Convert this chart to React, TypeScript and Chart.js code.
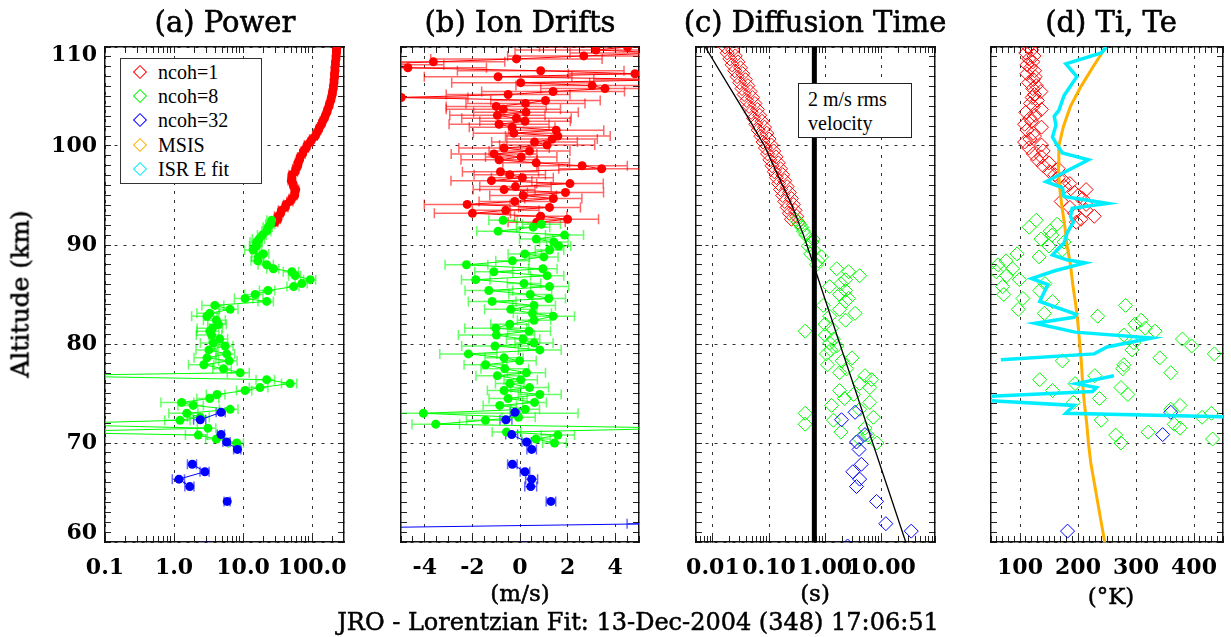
import React, { useEffect, useRef } from 'react';
import { Chart, registerables } from 'chart.js';
Chart.register(...registerables);

// ---------------- DATA ----------------
// altitude grids (km)
const redAlt = [92.3, 92.6, 92.9, 93.2, 93.5, 93.8, 94.1, 94.4, 94.7, 95.0, 95.3, 95.6, 95.9, 96.2, 96.5, 96.8, 97.1, 97.4, 97.7, 98.0, 98.3, 98.6, 98.9, 99.2, 99.5, 99.8, 100.1, 100.4, 100.7, 101.0, 101.3, 101.6, 101.9, 102.2, 102.5, 102.8, 103.1, 103.4, 103.7, 104.0, 104.3, 104.6, 104.9, 105.2, 105.5, 105.8, 106.1, 106.4, 106.7, 107.0, 107.3, 107.6, 107.9, 108.2, 108.5, 108.8, 109.1, 109.4, 109.7, 110.0];
const greenAlt = [70.0, 70.4, 70.8, 71.1, 71.5, 71.9, 72.3, 72.6, 73.0, 73.4, 73.8, 74.1, 74.5, 74.9, 75.3, 75.6, 76.0, 76.4, 76.8, 77.1, 77.5, 77.9, 78.3, 78.6, 79.0, 79.4, 79.8, 80.1, 80.5, 80.9, 81.3, 81.6, 82.0, 82.4, 82.8, 83.1, 83.5, 83.9, 84.3, 84.6, 85.0, 85.4, 85.8, 86.1, 86.5, 86.9, 87.3, 87.6, 88.0, 88.4, 88.8, 89.1, 89.5, 89.9, 90.3, 90.6, 91.0, 91.4, 91.8, 92.1, 92.5];
const blueAlt = [73.1, 72.35, 71.6, 70.85, 70.1, 69.35, 68.6, 67.85, 67.1, 66.35, 65.6, 64.85, 64.1, 63.35, 62.6, 61.85, 61.1, 60.35, 59.6];

// (a) Power
const redPower = [29, 32, 32, 35, 36, 41, 42, 48, 51, 56, 56, 58, 54, 53, 50, 51, 51, 57, 58, 62, 62, 66, 67, 73, 75, 82, 85, 94, 100, 111, 116, 124, 128, 137, 142, 151, 156, 164, 168, 176, 179, 187, 190, 196, 198, 203, 204, 208, 208, 212, 211, 215, 214, 218, 218, 222, 222, 226, 226, 229];
const redPowerRelErr = [0.10, 0.09, 0.11, 0.08, 0.10, 0.09, 0.08, 0.10, 0.09, 0.08, 0.09, 0.10, 0.08, 0.09, 0.10, 0.08, 0.09, 0.08, 0.10, 0.09, 0.08, 0.09, 0.08, 0.09, 0.07, 0.08, 0.09, 0.07, 0.08, 0.07, 0.08, 0.07, 0.06, 0.07, 0.08, 0.06, 0.07, 0.06, 0.07, 0.06, 0.07, 0.06, 0.05, 0.06, 0.07, 0.06, 0.05, 0.06, 0.05, 0.06, 0.05, 0.06, 0.05, 0.06, 0.05, 0.05, 0.06, 0.05, 0.05, 0.05];
const greenPower = [8.1, 4.1, 2.25, 0.01, 3.1, 0.01, 1.22, 2.4, 1.53, 6.5, 1.9, 1.29, 3.3, 4.2, 10.7, 17.6, 48, 22, 0.01, 9.1, 5.2, 2.7, 6.3, 3.0, 5.8, 3.2, 5.5, 3.7, 4.6, 3.5, 3.3, 3.6, 4.4, 4.1, 3.0, 3.3, 6.5, 3.9, 22, 10.7, 15, 23, 54, 71, 94, 57, 51, 27.5, 22, 16.3, 16.7, 19.7, 14, 15.5, 15.8, 17, 19, 22, 23, 25, 26];
const greenPowerRelErr = [0.25, 0.3, 0.35, 0.5, 0.3, 0.5, 0.4, 0.35, 0.45, 0.3, 0.4, 0.5, 0.35, 0.3, 0.25, 0.3, 0.25, 0.3, 0.6, 0.35, 0.3, 0.4, 0.3, 0.35, 0.3, 0.35, 0.3, 0.35, 0.3, 0.4, 0.35, 0.4, 0.3, 0.35, 0.4, 0.35, 0.3, 0.35, 0.25, 0.3, 0.3, 0.25, 0.2, 0.2, 0.2, 0.2, 0.25, 0.2, 0.25, 0.2, 0.2, 0.2, 0.25, 0.2, 0.2, 0.2, 0.15, 0.15, 0.15, 0.15, 0.15];
const bluePower = [4.8, 2.4, null, 4.8, 5.8, 8.3, null, 1.84, 2.8, 1.18, 1.69, null, 5.9, null, null, null, null, null, 2.8];
const bluePowerRelErr = [0.15, 0.2, null, 0.12, 0.12, 0.12, null, 0.15, 0.15, 0.2, 0.15, null, 0.1, null, null, null, null, null, 0.12];

// (b) Ion drifts (m/s)
const redVel = [0.7, 2.0, 0.87, -2.0, -0.6, 1.24, -2.22, -0.22, 1.4, 0.13, 1.91, -0.67, -0.19, 2.1, -1.2, 0.1, -0.43, -0.82, 3.43, 2.61, 0.68, -0.88, 0.05, -1.09, 0.4, -0.67, 1.14, 0.61, 1.35, 1.59, -0.26, 1.52, -0.33, -0.88, 0.21, -0.15, -0.95, 0.25, -0.7, -1.0, 0.23, 1.07, -4.99, -0.5, 1.39, 3.57, 3.03, 0.03, 6.5, -0.92, 4.83, 0.87, -4.71, -7.0, -3.64, -0.15, 2.68, 6.0, 3.19, 4.52];
const redVelErr = [1.2, 1.3, 1.1, 1.6, 1.4, 1.3, 1.8, 1.5, 1.2, 1.4, 1.6, 1.3, 1.5, 1.4, 1.7, 1.3, 1.5, 1.6, 1.8, 1.9, 1.4, 1.6, 1.5, 1.8, 1.7, 1.9, 2.0, 1.8, 1.9, 2.2, 1.7, 2.0, 1.8, 2.1, 1.9, 2.3, 2.0, 2.2, 2.4, 2.1, 2.5, 2.3, 2.8, 2.6, 3.0, 2.7, 3.2, 2.9, 3.4, 3.1, 2.8, 3.5, 3.3, 3.8, 3.0, 3.6, 3.2, 3.9, 3.4, 3.7];
const greenVel = [1.45, 0.67, 1.59, -0.57, 7.0, -3.54, -1.45, -0.06, -4.06, 0.22, -0.85, 0.61, -0.5, 0.83, -0.67, 0.4, -0.43, 0.03, -0.95, 0.27, -0.64, -1.45, -0.02, -0.67, -2.17, 0.83, -1.05, 0.59, 0.13, -0.99, 0.38, -1.02, -0.43, 0.59, 1.39, 0.52, -0.39, 0.59, -1.17, 1.21, 0.43, -1.31, 1.24, 0.17, -1.86, 1.14, -1.1, 0.96, -2.25, -0.32, 1.0, 0.2, 1.24, 1.63, 1.42, 0.68, 1.87, -0.92, 0.55, 0.9, -0.71];
const greenVelErr = [0.5, 0.6, 0.7, 0.6, 1.5, 1.0, 0.8, 0.7, 6.5, 0.6, 0.7, 0.5, 0.8, 0.9, 0.7, 0.8, 0.6, 0.7, 0.9, 0.8, 1.0, 0.9, 0.7, 0.8, 1.2, 0.9, 1.4, 0.8, 0.7, 1.6, 0.9, 1.3, 0.8, 0.7, 0.9, 0.8, 1.1, 0.9, 1.0, 0.7, 0.9, 1.0, 0.8, 0.7, 0.6, 0.7, 0.8, 0.6, 0.9, 0.7, 0.6, 0.7, 0.6, 0.5, 0.6, 0.7, 0.8, 0.9, 0.7, 0.8, 0.6];
const blueVel = [-0.21, -0.59, null, -0.35, 0.28, 0.49, null, -0.32, 0.21, 0.49, 0.45, null, 1.3, null, null, 5.8, -17, null, 0.1];
const blueVelErr = [0.2, 0.25, null, 0.25, 0.2, 0.2, null, 0.2, 0.2, 0.25, 0.25, null, 0.2, null, null, 1.3, 2.0, null, 0.2];

// (c) Diffusion time (s)
const redDiff = [0.33, 0.25, 0.31, 0.23, 0.29, 0.21, 0.27, 0.19, 0.25, 0.175, 0.23, 0.16, 0.21, 0.148, 0.19, 0.135, 0.175, 0.124, 0.16, 0.113, 0.146, 0.103, 0.133, 0.094, 0.121, 0.086, 0.11, 0.078, 0.1, 0.071, 0.091, 0.064, 0.083, 0.058, 0.075, 0.053, 0.068, 0.048, 0.062, 0.044, 0.056, 0.04, 0.051, 0.036, 0.046, 0.033, 0.042, 0.03, 0.038, 0.027, 0.034, 0.0245, 0.031, 0.022, 0.028, 0.02, 0.025, 0.018, 0.0225, 0.0165];
const greenDiff = [8.3, 4.1, 5.7, 1.9, 5.1, 0.44, 1.4, 7.2, 0.44, 4.1, 1.3, 6.2, 2.2, 3.2, 1.8, 6.2, 4.1, 6.7, 5.1, 1.8, 2.4, 1.1, 2.0, 3.0, 1.05, 1.25, 1.6, 1.2, 1.4, 1.0, 0.44, 1.3, 0.99, 2.3, 1.2, 3.4, 1.8, 0.92, 2.3, 2.6, 1.8, 2.3, 1.2, 1.9, 2.3, 4.1, 2.6, 1.6, 0.7, 0.75, 0.86, 0.55, 0.62, 0.5, 0.58, 0.61, 0.45, 0.41, 0.38, 0.35, 0.31];
const blueDiff = [3.4, 1.95, null, 5.1, 3.6, 4.0, null, 4.4, 3.1, 4.1, 3.6, null, 8.2, null, null, 12, 34, null, 2.5];
const diffCurveAlt = [60, 65, 70, 75, 80, 85, 88, 91, 94, 97, 100, 103, 106, 110];
const diffCurveTime = [27.1, 13.8, 7.0, 3.6, 1.82, 0.93, 0.62, 0.41, 0.256, 0.145, 0.083, 0.041, 0.0195, 0.0073];
const rmsTime = 0.64;

// (d) Ti, Te (K)
const redTemp = [197, 205, 228, 194, 214, 186, 214, 171, 208, 200, 194, 214, 177, 186, 175, 166, 160, 151, 166, 140, 150, 130, 137, 123, 140, 115, 137, 108, 117, 125, 123, 112, 137, 108, 120, 117, 126, 110, 137, 123, 118, 130, 121, 125, 136, 122, 128, 115, 123, 126, 112, 125, 118, 112, 122, 115, 124, 110, 120, 114];
const greenTemp = [274, 432, 265, 321, 376, 366, 240, 414, 430, 360, 376, 192, 237, 286, 156, 274, 195, 134, 229, 360, 277, 279, 173, 341, 435, 293, 396, 296, 380, 279, 333, 316, 298, 309, 234, 142, 97, 282, 156, 105, 72, 134, 70, 143, 99, 77, 59, 87, 62, 76, 133, 95, 173, 150, 176, 136, 155, 152, 116, 164, 128];
const blueTemp = [360, null, null, 346, null, null, null, null, null, null, null, null, null, null, null, null, 182, null, null];
const msisAlt = [60, 62, 64, 66, 68, 70, 72, 74, 76, 78, 80, 82, 84, 86, 88, 90, 92, 94, 96, 98, 100, 102, 104, 106, 108, 110];
const msisTemp = [246, 240, 234, 228, 222, 218, 215, 211, 208, 206, 203, 200, 196, 191, 187, 181, 177, 172, 168, 166, 167, 175, 187, 205, 226, 248];
const isrAlt = [72.65, 73.0, 73.8, 74.3, 74.7, 75.2, 75.6, 76.0, 76.8, 77.6, 78.4, 79.0, 79.7, 80.6, 81.2, 82.1, 82.7, 83.0, 84.3, 86.0, 86.6, 87.4, 88.2, 88.5, 89.0, 90.2, 91.2, 92.3, 92.9, 93.7, 94.2, 94.9, 95.8, 96.4, 98.6, 99.3, 100.3, 100.9, 102.1, 103.0, 103.6, 105.1, 107.0, 108.3, 109.4, 110.0];
const isrTemp = [460, 179, 193, 40, 40, 225, 232, 197, 262, null, 67, 228, 250, 327, 195, 126, 193, 197, 134, 148, 120, 160, 212, 181, 156, 176, 181, 192, 187, 190, 251, 176, 173, 145, 218, 173, 162, 156, 162, 159, 167, 176, 198, 179, 240, 249];

// axis tick labels
const altMajor = [60, 70, 80, 90, 100, 110];
const altLabels = ['60', '70', '80', '90', '100', '110'];
const powerMajor = [0.1, 1, 10, 100];
const powerLabels = ['0.1', '1.0', '10.0', '100.0'];
const velMajor = [-4, -2, 0, 2, 4];
const velLabels = ['-4', '-2', '0', '2', '4'];
const diffMajor = [0.01, 0.1, 1, 10];
const diffLabels = ['0.01', '0.10', '1.00', '10.00'];
const tempMajor = [100, 200, 300, 400];
const tempLabels = ['100', '200', '300', '400'];

const panelTitles = ['(a) Power', '(b) Ion Drifts', '(c) Diffusion Time', '(d) Ti, Te'];
const legendLabels = ['ncoh=1', 'ncoh=8', 'ncoh=32', 'MSIS', 'ISR E fit'];
const footerText = 'JRO - Lorentzian Fit: 13-Dec-2004 (348) 17:06:51';

// ---------------- STYLE ----------------
const RED = '#ff0000';
const GREEN = '#00ff00';
const BLUE = '#0000ff';
const ORANGE = '#ffb000';
const CYAN = '#00eeff';
const legendColors = [RED, GREEN, BLUE, ORANGE, CYAN];
const SERIF = '"DejaVu Serif", serif';
const TIMES = '"Liberation Serif", "Times New Roman", serif';
const GRID = '#333333';
const FRAME = '#111111';
const TICK = '#222222';
const H = 637;
const PLOT_TOP = 47;
const PLOT_BOTTOM = 542;
const X_AXIS_H = 40;

const close = (a: number, b: number) => Math.abs(a - b) <= 1e-6 * Math.max(Math.abs(b), 1e-9);

function linTicks(min: number, max: number, step: number) {
  const out: number[] = [];
  const n = Math.round((max - min) / step);
  for (let i = 0; i <= n; i++) out.push(Math.round((min + i * step) * 1000) / 1000);
  return out;
}
function logTicks(min: number, max: number) {
  const out: number[] = [];
  for (let e = -4; e <= 4; e++) {
    for (let m = 1; m <= 9; m++) {
      const v = Number((m * Math.pow(10, e)).toPrecision(6));
      if (v >= min * 0.9999 && v <= max * 1.0001) out.push(v);
    }
  }
  return out;
}

const altTicks = linTicks(60, 110, 1);

function pts(alt: number[], vals: (number | null)[]) {
  return alt.map((a, i) => ({ x: vals[i] == null ? null : vals[i], y: a }));
}

function lineSeries(alt: number[], vals: any[], color: string, lo: any[], hi: any[]) {
  return {
    data: pts(alt, vals),
    showLine: true,
    borderColor: color,
    borderWidth: 1,
    pointRadius: 4.5,
    pointBackgroundColor: color,
    pointBorderColor: color,
    pointBorderWidth: 0,
    xLo: lo,
    xHi: hi,
    errColor: color,
  };
}
function relBars(vals: any[], rel: any[]) {
  return {
    lo: vals.map((v, i) => (v == null || rel[i] == null ? null : v * (1 - rel[i]))),
    hi: vals.map((v, i) => (v == null || rel[i] == null ? null : v * (1 + rel[i]))),
  };
}
function absBars(vals: any[], err: any[]) {
  return {
    lo: vals.map((v, i) => (v == null || err[i] == null ? null : v - err[i])),
    hi: vals.map((v, i) => (v == null || err[i] == null ? null : v + err[i])),
  };
}
function diamonds(alt: number[], vals: any[], color: string) {
  return {
    data: pts(alt, vals),
    showLine: false,
    pointStyle: 'rectRot',
    pointRadius: 7,
    pointBorderColor: color,
    pointBackgroundColor: 'rgba(0,0,0,0)',
    pointBorderWidth: 1,
  };
}
function curve(alt: number[], vals: any[], color: string, width: number) {
  return {
    data: pts(alt, vals),
    showLine: true,
    borderColor: color,
    borderWidth: width,
    pointRadius: 0,
    tension: 0,
  };
}

const errorBarPlugin = {
  id: 'errbars',
  beforeDatasetsDraw(chart: any) {
    const { ctx, chartArea, scales } = chart;
    ctx.save();
    ctx.beginPath();
    ctx.rect(chartArea.left, chartArea.top, chartArea.right - chartArea.left, chartArea.bottom - chartArea.top);
    ctx.clip();
    chart.data.datasets.forEach((ds: any) => {
      if (!ds.xLo) return;
      ctx.strokeStyle = ds.errColor;
      ctx.globalAlpha = 0.6;
      ctx.lineWidth = 1.5;
      ds.data.forEach((p: any, i: number) => {
        if (p.x == null || ds.xLo[i] == null) return;
        const y = scales.y.getPixelForValue(p.y);
        const x1 = scales.x.getPixelForValue(ds.xLo[i]);
        const x2 = scales.x.getPixelForValue(ds.xHi[i]);
        if (!isFinite(x1) || !isFinite(x2)) return;
        ctx.beginPath();
        ctx.moveTo(x1, y);
        ctx.lineTo(x2, y);
        ctx.moveTo(x1, y - 5);
        ctx.lineTo(x1, y + 5);
        ctx.moveTo(x2, y - 5);
        ctx.lineTo(x2, y + 5);
        ctx.stroke();
      });
    });
    ctx.restore();
  },
};

const xTickFont = { family: SERIF, size: 22, weight: 'bold' };
const yTickFont = { family: SERIF, size: 22, weight: 'bold', lineHeight: '17px' };

function xScales(type: string, min: number, max: number, ticks: number[], majors: number[], labels: string[]) {
  const isMajor = (v: number) => majors.some((m) => close(v, m));
  const common = {
    type,
    min,
    max,
    bounds: 'data',
    afterBuildTicks: (s: any) => {
      s.ticks = ticks.map((v) => ({ value: v }));
    },
  };
  return {
    x: {
      ...common,
      position: 'bottom',
      ticks: {
        autoSkip: false,
        maxRotation: 0,
        minRotation: 0,
        padding: 19,
        color: '#000',
        font: xTickFont,
        callback: (v: number) => {
          const k = majors.findIndex((m) => close(v, m));
          return k >= 0 ? labels[k] : '';
        },
      },
      grid: {
        color: (c: any) => (c.tick && isMajor(c.tick.value) ? GRID : 'rgba(0,0,0,0)'),
        lineWidth: 1,
        drawTicks: true,
        tickLength: -6,
        tickColor: TICK,
        tickWidth: 1,
      },
      border: { display: true, color: FRAME, width: 1.5, dash: [3, 6] },
      afterFit: (s: any) => {
        s.height = X_AXIS_H;
        s.paddingLeft = 0;
        s.paddingRight = 0;
      },
    },
    x2: {
      ...common,
      axis: 'x',
      position: 'top',
      ticks: { display: false },
      grid: { drawOnChartArea: false, drawTicks: true, tickLength: -6, tickColor: TICK, tickWidth: 1 },
      border: { display: true, color: FRAME, width: 1.5 },
      afterFit: (s: any) => {
        s.height = 0;
        s.paddingLeft = 0;
        s.paddingRight = 0;
      },
    },
  };
}

function yScales(yW: number, showLabels: boolean) {
  const isMajor = (v: number) => altMajor.some((m) => close(v, m));
  const common = {
    type: 'linear',
    min: 60,
    max: 110,
    bounds: 'data',
    afterBuildTicks: (s: any) => {
      s.ticks = altTicks.map((v) => ({ value: v }));
    },
  };
  return {
    y: {
      ...common,
      position: 'left',
      ticks: {
        display: showLabels,
        autoSkip: false,
        padding: 14,
        color: '#000',
        font: yTickFont,
        callback: (v: number) => {
          const k = altMajor.findIndex((m) => close(v, m));
          if (k < 0) return '';
          if (k === 0) return [altLabels[k], ''];
          if (k === altMajor.length - 1) return ['', altLabels[k]];
          return altLabels[k];
        },
      },
      grid: {
        color: (c: any) => (c.tick && isMajor(c.tick.value) ? GRID : 'rgba(0,0,0,0)'),
        lineWidth: 1,
        drawTicks: true,
        tickLength: -6,
        tickColor: TICK,
        tickWidth: 1,
      },
      border: { display: true, color: FRAME, width: 1.5, dash: [3, 6] },
      afterFit: (s: any) => {
        s.width = yW;
        s.paddingTop = 0;
        s.paddingBottom = 0;
      },
    },
    y2: {
      ...common,
      axis: 'y',
      position: 'right',
      ticks: { display: false },
      grid: { drawOnChartArea: false, drawTicks: true, tickLength: -6, tickColor: TICK, tickWidth: 1 },
      border: { display: true, color: FRAME, width: 1.5 },
      afterFit: (s: any) => {
        s.width = 0;
        s.paddingTop = 0;
        s.paddingBottom = 0;
      },
    },
  };
}

function makeConfig(o: any) {
  return {
    type: 'scatter',
    data: { datasets: o.datasets },
    options: {
      animation: false,
      responsive: false,
      events: [],
      layout: { padding: { left: o.padL, right: o.padR, top: PLOT_TOP, bottom: H - PLOT_BOTTOM - X_AXIS_H } },
      plugins: { legend: { display: false }, tooltip: { enabled: false } },
      scales: { ...o.x, ...yScales(o.yW, o.showY) },
    },
    plugins: [errorBarPlugin],
  };
}

// ---------------- PANELS ----------------
function powerConfig() {
  const r = relBars(redPower, redPowerRelErr);
  const g = relBars(greenPower, greenPowerRelErr);
  const b = relBars(bluePower, bluePowerRelErr);
  return makeConfig({
    padL: 0,
    yW: 105,
    padR: 16,
    showY: true,
    x: xScales('logarithmic', 0.1, 290, logTicks(0.1, 290), powerMajor, powerLabels),
    datasets: [
      lineSeries(blueAlt, bluePower, BLUE, b.lo, b.hi),
      lineSeries(greenAlt, greenPower, GREEN, g.lo, g.hi),
      lineSeries(redAlt, redPower, RED, r.lo, r.hi),
    ],
  });
}
function driftConfig() {
  const r = absBars(redVel, redVelErr);
  const g = absBars(greenVel, greenVelErr);
  const b = absBars(blueVel, blueVelErr);
  return makeConfig({
    padL: 0,
    yW: 21,
    padR: 21,
    showY: false,
    x: xScales('linear', -5, 5, linTicks(-5, 5, 0.5), velMajor, velLabels),
    datasets: [
      lineSeries(blueAlt, blueVel, BLUE, b.lo, b.hi),
      lineSeries(greenAlt, greenVel, GREEN, g.lo, g.hi),
      lineSeries(redAlt, redVel, RED, r.lo, r.hi),
    ],
  });
}
function diffConfig() {
  return makeConfig({
    padL: 0,
    yW: 20,
    padR: 21,
    showY: false,
    x: xScales('logarithmic', 0.005, 90, logTicks(0.005, 90), diffMajor, diffLabels),
    datasets: [
      curve([60, 110], [rmsTime, rmsTime], '#000', 5),
      curve(diffCurveAlt, diffCurveTime, '#000', 1.3),
      diamonds(blueAlt, blueDiff, BLUE),
      diamonds(greenAlt, greenDiff, GREEN),
      diamonds(redAlt, redDiff, RED),
    ],
  });
}
function tempConfig() {
  return makeConfig({
    padL: 0,
    yW: 20,
    padR: 1,
    showY: false,
    x: xScales('linear', 50, 450, linTicks(50, 450, 10), tempMajor, tempLabels),
    datasets: [
      curve(isrAlt, isrTemp, CYAN, 3.5),
      curve(msisAlt, msisTemp, ORANGE, 3),
      diamonds(blueAlt, blueTemp, BLUE),
      diamonds(greenAlt, greenTemp, GREEN),
      diamonds(redAlt, redTemp, RED),
    ],
  });
}

function Panel({ left, width, build }: { left: number; width: number; build: () => any }) {
  const ref = useRef<HTMLCanvasElement | null>(null);
  useEffect(() => {
    const chart = new Chart(ref.current as any, build() as any);
    return () => chart.destroy();
  }, []);
  return (
    <canvas
      ref={ref}
      width={width}
      height={H}
      style={{ position: 'absolute', left, top: 0, width, height: H }}
    />
  );
}

function Label(props: any) {
  const { x, y, text, size, weight = 'normal', family = SERIF, rotate = 0, stroke = 0.4 } = props;
  return (
    <div
      style={{
        position: 'absolute',
        left: x,
        top: y,
        transform: `translate(-50%, -50%) rotate(${rotate}deg)`,
        fontFamily: family,
        fontSize: size,
        fontWeight: weight,
        lineHeight: 1,
        whiteSpace: 'nowrap',
        color: '#000',
        WebkitTextStroke: `${stroke}px #000`,
      }}
    >
      {text}
    </div>
  );
}

export default function App() {
  const titleX = [225, 520, 815, 1111];
  return (
    <div style={{ position: 'absolute', left: 0, top: 0, width: 1231, height: H, background: '#fff', overflow: 'hidden' }}>
      <Panel left={0} width={360} build={powerConfig} />
      <Panel left={380} width={280} build={driftConfig} />
      <Panel left={676} width={280} build={diffConfig} />
      <Panel left={971} width={260} build={tempConfig} />

      {panelTitles.map((t, i) => (
        <Label key={t} x={titleX[i]} y={22} text={t} size={29} stroke={0.6} />
      ))}
      <Label x={20} y={294} text="Altitude (km)" size={25} rotate={-90} stroke={0.5} />
      <Label x={520} y={593} text="(m/s)" size={23} stroke={0.5} />
      <Label x={815} y={593} text="(s)" size={23} stroke={0.5} />
      <Label x={1111} y={596} text="(°K)" size={23} stroke={0.5} />
      <Label x={638} y={622} text={footerText} size={24} stroke={0.5} />

      {/* legend in panel (a) */}
      <div
        style={{
          position: 'absolute',
          left: 120,
          top: 58,
          width: 142,
          height: 126,
          boxSizing: 'border-box',
          border: '1.5px solid #333',
          background: '#fff',
        }}
      />
      {legendLabels.map((t, i) => {
        const yc = 72 + i * 24.2;
        return (
          <React.Fragment key={t}>
            <div
              style={{
                position: 'absolute',
                left: 135,
                top: yc - 5,
                width: 10,
                height: 10,
                boxSizing: 'border-box',
                border: `1px solid ${legendColors[i]}`,
                transform: 'rotate(45deg)',
              }}
            />
            <div
              style={{
                position: 'absolute',
                left: 158,
                top: yc,
                transform: 'translateY(-50%)',
                fontFamily: TIMES,
                fontSize: 20,
                lineHeight: 1,
                whiteSpace: 'nowrap',
              }}
            >
              {t}
            </div>
          </React.Fragment>
        );
      })}

      {/* annotation box in panel (c) */}
      <div
        style={{
          position: 'absolute',
          left: 798,
          top: 83,
          width: 114,
          height: 55,
          boxSizing: 'border-box',
          border: '1.5px solid #222',
          background: '#fff',
          fontFamily: TIMES,
          fontSize: 20,
          lineHeight: '24px',
          paddingLeft: 9,
          paddingTop: 3,
          whiteSpace: 'nowrap',
        }}
      >
        <div>2 m/s rms</div>
        <div>velocity</div>
      </div>
    </div>
  );
}
